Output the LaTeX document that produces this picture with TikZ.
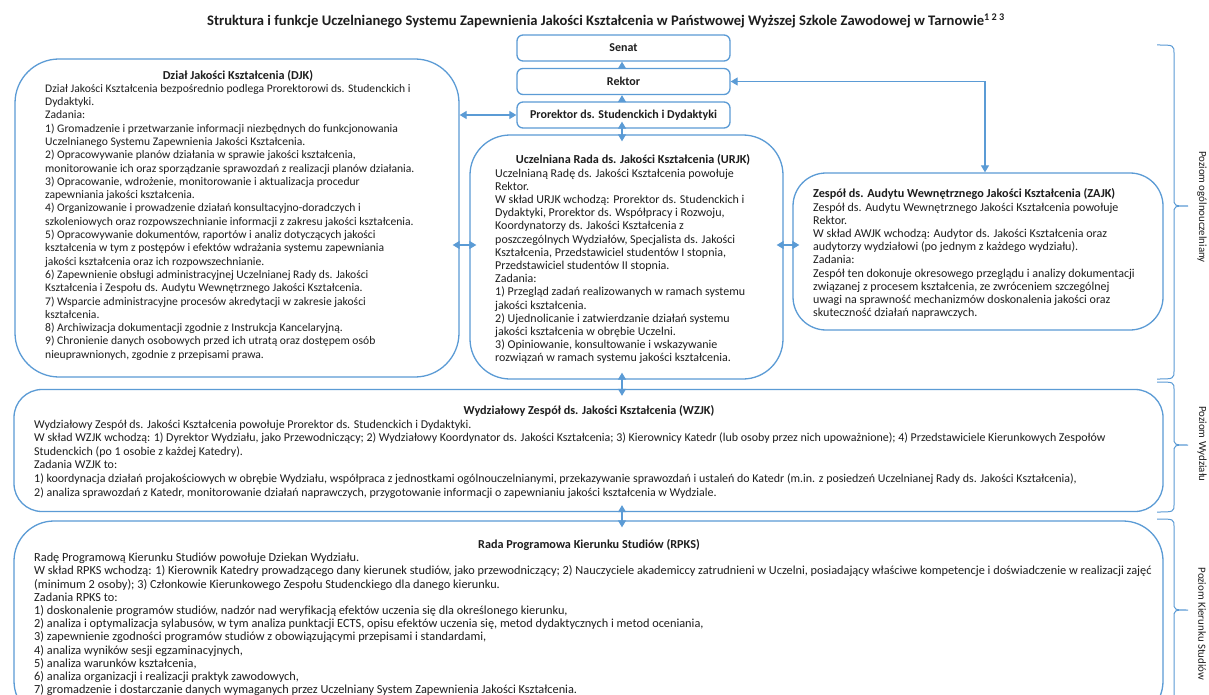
\documentclass[tikz,border=0pt]{standalone}
\usepackage{fontspec}
\setmainfont{Carlito}
\usetikzlibrary{arrows.meta,calc}
\definecolor{bl}{HTML}{5B9BD5}
\definecolor{tc}{HTML}{1E1E1E}
\begin{document}
\begin{tikzpicture}[x=1pt,y=-1pt,
  box/.style={draw=bl, line width=1.3pt, fill=white, inner sep=0pt},
  smallbox/.style={box, rounded corners=6pt, minimum width=213pt, minimum height=26pt,
     font=\fontsize{12}{13.2}\selectfont\bfseries, text=tc},
  txt/.style={anchor=north west, inner sep=0pt, align=left, text=tc,
     font=\fontsize{12}{13.2}\selectfont, execute at begin node=\strut},
  ttl/.style={anchor=base, inner sep=0pt, text=tc, font=\fontsize{12.2}{13.2}\selectfont\bfseries},
  lvl/.style={rotate=-90, inner sep=0pt, text=tc, font=\fontsize{10.9}{12}\selectfont},
  con/.style={draw=bl, line width=1.2pt},
  arr/.style={con, -{Triangle[length=7pt,width=8pt]}},
  dbl/.style={con, {Triangle[length=7pt,width=8pt]}-{Triangle[length=7pt,width=8pt]}},
  over/.style={shorten <=-7pt, shorten >=-7pt},
  brc/.style={draw=bl, line width=1pt}
]
\useasboundingbox (0,0) rectangle (1209,695);
\clip (0,0) rectangle (1209,695);
\fill[white] (0,0) rectangle (1209,695);

% title
\node[anchor=base west, inner sep=0pt, text=tc, font=\fontsize{14.6}{16}\selectfont\bfseries] (title) at (207,26)
  {Struktura i funkcje Uczelnianego Systemu Zapewnienia Jakości Kształcenia w Państwowej Wyższej Szkole Zawodowej w Tarnowie\textsuperscript{1 2 3}};

% top boxes
\node[smallbox] (senat) at (623.5,48) {Senat};
\node[smallbox] (rektor) at (623.5,81.5) {Rektor};
\node[smallbox] (prorektor) at (623.5,115) {Prorektor ds. Studenckich i Dydaktyki};

% DJK
\node[box, rounded corners=44pt, minimum width=444pt, minimum height=318pt] (djk) at (237,218) {};
\node[ttl] (djkh) at (238,79.5) {Dział Jakości Kształcenia (DJK)};
\node[txt, font=\fontsize{11.6}{13.3}\selectfont] (djkt) at (45,84) {Dział Jakości Kształcenia bezpośrednio podlega Prorektorowi ds. Studenckich i\\
Dydaktyki.\\
Zadania:\\
1) Gromadzenie i przetwarzanie informacji niezbędnych do funkcjonowania\\
Uczelnianego Systemu Zapewnienia Jakości Kształcenia.\\
2) Opracowywanie planów działania w sprawie jakości kształcenia,\\
monitorowanie ich oraz sporządzanie sprawozdań z realizacji planów działania.\\
3) Opracowanie, wdrożenie, monitorowanie i aktualizacja procedur\\
zapewniania jakości kształcenia.\\
4) Organizowanie i prowadzenie działań konsultacyjno-doradczych i\\
szkoleniowych oraz rozpowszechnianie informacji z zakresu jakości kształcenia.\\
5) Opracowywanie dokumentów, raportów i analiz dotyczących jakości\\
kształcenia w tym z postępów i efektów wdrażania systemu zapewniania\\
jakości kształcenia oraz ich rozpowszechnianie.\\
6) Zapewnienie obsługi administracyjnej Uczelnianej Rady ds. Jakości\\
Kształcenia i Zespołu ds. Audytu Wewnętrznego Jakości Kształcenia.\\
7) Wsparcie administracyjne procesów akredytacji w zakresie jakości\\
kształcenia.\\
8) Archiwizacja dokumentacji zgodnie z Instrukcja Kancelaryjną.\\
9) Chronienie danych osobowych przed ich utratą oraz dostępem osób\\
nieuprawnionych, zgodnie z przepisami prawa.};

% URJK
\node[box, rounded corners=40pt, minimum width=313pt, minimum height=244pt] (urjk) at (626.5,257) {};
\node[ttl] (urjkh) at (633,164) {Uczelniana Rada ds. Jakości Kształcenia (URJK)};
\node[txt] (urjkt) at (495,168.5) {Uczelnianą Radę ds. Jakości Kształcenia powołuje\\
Rektor.\\
W skład URJK wchodzą: Prorektor ds. Studenckich i\\
Dydaktyki, Prorektor ds. Współpracy i Rozwoju,\\
Koordynatorzy ds. Jakości Kształcenia z\\
poszczególnych Wydziałów, Specjalista ds. Jakości\\
Kształcenia, Przedstawiciel studentów I stopnia,\\
Przedstawiciel studentów II stopnia.\\
Zadania:\\
1) Przegląd zadań realizowanych w ramach systemu\\
jakości kształcenia.\\
2) Ujednolicanie i zatwierdzanie działań systemu\\
jakości kształcenia w obrębie Uczelni.\\
3) Opiniowanie, konsultowanie i wskazywanie\\
rozwiązań w ramach systemu jakości kształcenia.};

% ZAJK
\node[box, rounded corners=33pt, minimum width=370pt, minimum height=157pt] (zajk) at (978,251.5) {};
\node[ttl, anchor=base west] (zajkh) at (813,197.5) {Zespół ds. Audytu Wewnętrznego Jakości Kształcenia (ZAJK)};
\node[txt] (zajkt) at (813,202.5) {Zespół ds. Audytu Wewnętrznego Jakości Kształcenia powołuje\\
Rektor.\\
W skład AWJK wchodzą: Audytor ds. Jakości Kształcenia oraz\\
audytorzy wydziałowi (po jednym z każdego wydziału).\\
Zadania:\\
Zespół ten dokonuje okresowego przeglądu i analizy dokumentacji\\
związanej z procesem kształcenia, ze zwróceniem szczególnej\\
uwagi na sprawność mechanizmów doskonalenia jakości oraz\\
skuteczność działań naprawczych.};

% WZJK
\node[box, rounded corners=28pt, minimum width=1149pt, minimum height=122pt] (wzjk) at (588.5,450.5) {};
\node[ttl] (wzjkh) at (589,414.5) {Wydziałowy Zespół ds. Jakości Kształcenia (WZJK)};
\node[txt, font=\fontsize{11.95}{13.6}\selectfont] (wzjkt) at (34,419.5) {Wydziałowy Zespół ds. Jakości Kształcenia powołuje Prorektor ds. Studenckich i Dydaktyki.\\
W skład WZJK wchodzą: 1) Dyrektor Wydziału, jako Przewodniczący; 2) Wydziałowy Koordynator ds. Jakości Kształcenia; 3) Kierownicy Katedr (lub osoby przez nich upoważnione); 4) Przedstawiciele Kierunkowych Zespołów\\
Studenckich (po 1 osobie z każdej Katedry).\\
Zadania WZJK to:\\
1) koordynacja działań projakościowych w obrębie Wydziału, współpraca z jednostkami ogólnouczelnianymi, przekazywanie sprawozdań i ustaleń do Katedr (m.in. z posiedzeń Uczelnianej Rady ds. Jakości Kształcenia),\\
2) analiza sprawozdań z Katedr, monitorowanie działań naprawczych, przygotowanie informacji o zapewnianiu jakości kształcenia w Wydziale.};

% RPKS
\node[box, rounded corners=40pt, minimum width=1149pt, minimum height=200pt] (rpks) at (588.5,621) {};
\node[ttl] (rpksh) at (589,548.5) {Rada Programowa Kierunku Studiów (RPKS)};
\node[txt, font=\fontsize{12.3}{13.2}\selectfont] (rpkst) at (34,553) {Radę Programową Kierunku Studiów powołuje Dziekan Wydziału.\\
W skład RPKS wchodzą: 1) Kierownik Katedry prowadzącego dany kierunek studiów, jako przewodniczący; 2) Nauczyciele akademiccy zatrudnieni w Uczelni, posiadający właściwe kompetencje i doświadczenie w realizacji zajęć\\
(minimum 2 osoby); 3) Członkowie Kierunkowego Zespołu Studenckiego dla danego kierunku.\\
Zadania RPKS to:\\
1) doskonalenie programów studiów, nadzór nad weryfikacją efektów uczenia się dla określonego kierunku,\\
2) analiza i optymalizacja sylabusów, w tym analiza punktacji ECTS, opisu efektów uczenia się, metod dydaktycznych i metod oceniania,\\
3) zapewnienie zgodności programów studiów z obowiązującymi przepisami i standardami,\\
4) analiza wyników sesji egzaminacyjnych,\\
5) analiza warunków kształcenia,\\
6) analiza organizacji i realizacji praktyk zawodowych,\\
7) gromadzenie i dostarczanie danych wymaganych przez Uczelniany System Zapewnienia Jakości Kształcenia.};

% helper coordinates
\coordinate (xa) at (622,0);
\coordinate (y245) at (0,245);
\coordinate (zx) at (985,0);

% connectors
\draw[arr] (rektor.north -| xa) -- (senat.south -| xa);
\draw[arr] (prorektor.north -| xa) -- (rektor.south -| xa);
\draw[dbl, over] (prorektor.south -| xa) -- (urjk.north -| xa);
\draw[dbl] (djk.east |- prorektor.west) -- (prorektor.west);
\draw[dbl, over] (djk.east |- y245) -- (urjk.west |- y245);
\draw[dbl, over] (urjk.east |- y245) -- (zajk.west |- y245);
\draw[dbl] (rektor.east) -| (zajk.north -| zx);
\draw[dbl, over] (urjk.south -| xa) -- (wzjk.north -| xa);
\draw[dbl, over] (wzjk.south -| xa) -- (rpks.north -| xa);

% braces
\draw[brc] (1157,45) .. controls (1174,45) .. (1174,54) -- (1174,198) .. controls (1174,206) .. (1188,206) .. controls (1174,206) .. (1174,214) -- (1174,370) .. controls (1174,379) .. (1157,379);
\draw[brc] (1157,382) .. controls (1174,382) .. (1174,390) -- (1174,437) .. controls (1174,445) .. (1188,445) .. controls (1174,445) .. (1174,453) -- (1174,504) .. controls (1174,512) .. (1157,512);
\draw[brc] (1157,519) .. controls (1174,519) .. (1174,527) -- (1174,602) .. controls (1174,610) .. (1188,610) .. controls (1174,610) .. (1174,618) -- (1174,720);

\node[lvl] (lv1) at (1202,207) {Poziom ogólnouczelniany};
\node[lvl] (lv2) at (1202,444) {Poziom Wydziału};
\node[lvl] (lv3) at (1202,624) {Poziom Kierunku Studiów};
\end{tikzpicture}
\end{document}
